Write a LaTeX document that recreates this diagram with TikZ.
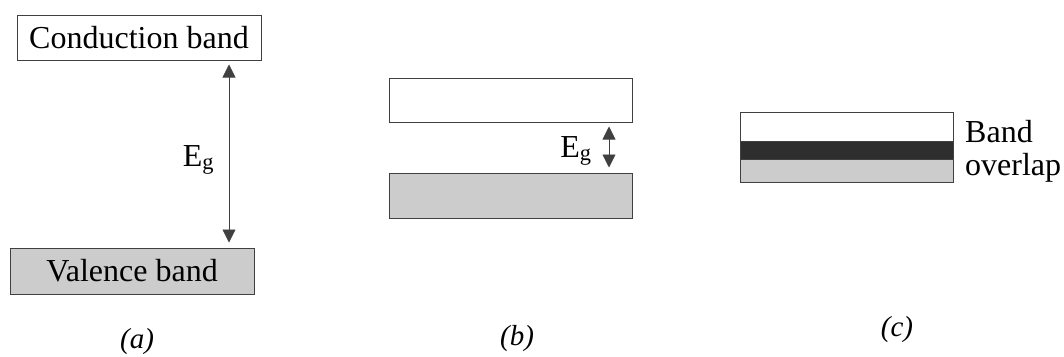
\documentclass[tikz,border=0pt]{standalone}
\usepackage{fontspec}
\setmainfont{Liberation Serif}
\newfontfamily\tnr{Liberation Serif}
\usetikzlibrary{arrows.meta}
\definecolor{edge}{gray}{0.25}
\definecolor{lightband}{gray}{0.80}
\definecolor{darkband}{gray}{0.18}
\tikzset{
  band/.style={draw=edge, line width=1pt, rectangle, inner sep=0pt, fill=white},
  txt/.style={font=\tnr\fontsize{32}{33}\selectfont, inner sep=0pt},
  sublabel/.style={font=\tnr\fontsize{29}{31}\selectfont\itshape, inner sep=0pt},
  gaparrow/.style={draw=edge, line width=0.8pt, {Triangle[width=13pt,length=13pt]}-{Triangle[width=13pt,length=13pt]}}
}
\begin{document}
\begin{tikzpicture}[x=1pt,y=-1pt]
\useasboundingbox (0,0) rectangle (1064,356);
% (a)
\node[band, txt, minimum width=244pt, minimum height=45pt] (cb) at (139,37.5) {Conduction band};
\node[band, txt, fill=lightband, minimum width=244pt, minimum height=46pt] (vb) at (132,271) {Valence band};
\draw[gaparrow] ([xshift=90pt,yshift=-4pt]cb.south) -- ([xshift=97pt,yshift=5pt]vb.north);
\node[txt, anchor=base] (ega) at (198.5,166) {E\textsubscript{g}};
\node[sublabel] (la) at (137,342) {(a)};
% (b)
\node[band, minimum width=243pt, minimum height=44pt] (bt) at (510.5,100) {};
\node[band, fill=lightband, minimum width=243pt, minimum height=45pt] (bb) at (510.5,195.5) {};
\draw[gaparrow] ([xshift=98.5pt,yshift=-4pt]bt.south) -- ([xshift=98.5pt,yshift=5pt]bb.north);
\node[txt, anchor=base] (egb) at (576,157) {E\textsubscript{g}};
\node[sublabel] (lb) at (517,339) {(b)};
% (c)
\node[band, minimum width=213pt, minimum height=29pt] (cw) at (846.5,126.5) {};
\node[band, fill=lightband, minimum width=213pt, minimum height=23pt] (cl) at (846.5,170.5) {};
\node[band, fill=darkband, minimum width=213pt, minimum height=18pt] (cd) at (846.5,150) {};
\node[txt, anchor=base west] (band) at (965,142) {Band};
\node[txt, anchor=base west] (ovl) at (965,175) {overlap};
\node[sublabel] (lc) at (897,330) {(c)};
\end{tikzpicture}
\end{document}
